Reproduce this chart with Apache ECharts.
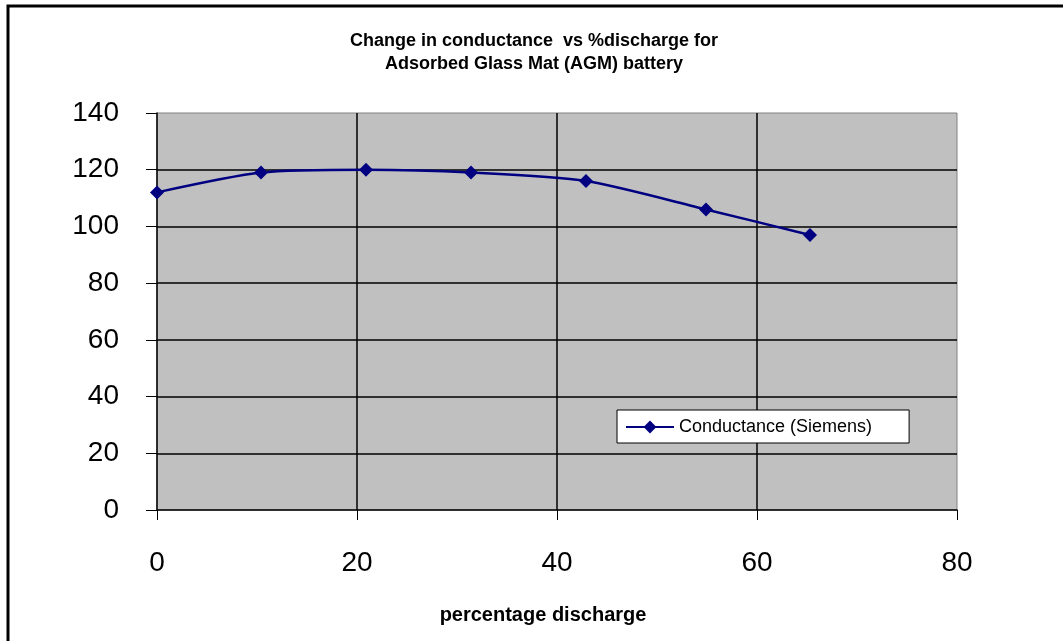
<!DOCTYPE html>
<html>
<head>
<meta charset="utf-8">
<script src="https://cdn.jsdelivr.net/npm/echarts@6/dist/echarts.min.js"></script>
<style>
html,body{margin:0;padding:0;background:#fff;}
#chart{width:1063px;height:641px;}
</style>
</head>
<body>
<div id="chart"></div>
<script>
const titleLines = ['Change in conductance  vs %discharge for', 'Adsorbed Glass Mat (AGM) battery'];
const xName = 'percentage discharge';
const seriesName = 'Conductance (Siemens)';
const dischargePct = [0, 10.4, 20.9, 31.4, 42.9, 54.9, 65.3];
const conductance = [112, 119, 120, 119, 116, 106, 97];

const chart = echarts.init(document.getElementById('chart'));
const FONT = '"Liberation Sans", Arial, sans-serif';
chart.setOption({
  animation: false,
  backgroundColor: '#fff',
  title: {
    text: titleLines.join('\n'),
    left: 529, top: 25, textAlign: 'center',
    textStyle: { fontFamily: FONT, fontWeight: 'bold', fontSize: 18, lineHeight: 23, color: '#000' }
  },
  graphic: [{
    type: 'rect', shape: { x: 8, y: 6, width: 1100, height: 700 },
    style: { fill: 'none', stroke: '#000', lineWidth: 3 }, z: 100
  }],
  legend: {
    left: 617, top: 410,
    backgroundColor: '#fff', borderColor: '#000', borderWidth: 1,
    padding: [8, 37, 7, 8],
    itemWidth: 48, itemHeight: 16, itemGap: 8,
    textStyle: { fontFamily: FONT, fontSize: 18, color: '#000' },
    data: [seriesName]
  },
  grid: {
    left: 157, right: 106, top: 113, bottom: 131,
    show: true, backgroundColor: '#C0C0C0', borderColor: '#808080', borderWidth: 1
  },
  xAxis: {
    type: 'value', min: 0, max: 80, interval: 20,
    name: xName, nameLocation: 'middle', nameGap: 95,
    nameTextStyle: { fontFamily: FONT, fontWeight: 'bold', fontSize: 20, color: '#000', padding: [0, 28, 0, 0] },
    axisLine: { show: true, lineStyle: { color: '#000', width: 1.5 } },
    axisTick: { show: true, length: 10, lineStyle: { color: '#000', width: 1 } },
    axisLabel: { fontFamily: FONT, fontSize: 28, color: '#000', margin: 39 },
    splitLine: { show: true, showMinLine: false, showMaxLine: false, lineStyle: { color: '#000', width: 1.5 } }
  },
  yAxis: {
    type: 'value', min: 0, max: 140, interval: 20,
    axisLine: { show: true, lineStyle: { color: '#000', width: 1.5 } },
    axisTick: { show: true, length: 11, lineStyle: { color: '#000', width: 1 } },
    axisLabel: { fontFamily: FONT, fontSize: 28, color: '#000', margin: 38 },
    splitLine: { show: true, showMinLine: false, showMaxLine: false, lineStyle: { color: '#000', width: 1.5 } }
  },
  series: [{
    name: seriesName, type: 'line',
    data: dischargePct.map((x, i) => [x, conductance[i]]),
    smooth: 0.25,
    symbol: 'diamond', symbolSize: 14,
    lineStyle: { color: '#000080', width: 2.5 },
    itemStyle: { color: '#000080' }
  }]
});
</script>
</body>
</html>
